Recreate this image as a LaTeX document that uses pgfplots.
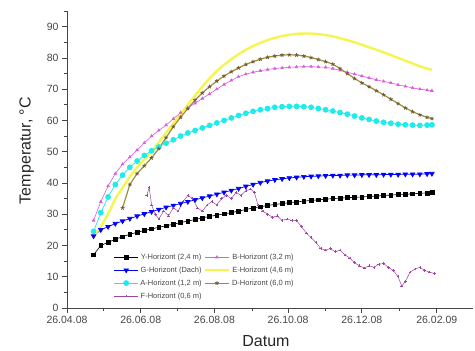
\documentclass[border=0pt]{standalone}
\usepackage{pgfplots}
\pgfplotsset{compat=1.18}
\usepackage{fontspec}
\setmainfont{Liberation Sans}

\definecolor{axgray}{RGB}{70,70,70}
\definecolor{hzB}{RGB}{222,90,222}
\definecolor{hzA}{RGB}{30,235,235}
\definecolor{hzE}{RGB}{245,245,80}
\definecolor{hzD}{RGB}{150,145,60}
\definecolor{hzDm}{RGB}{115,90,50}
\definecolor{hzF}{RGB}{160,70,160}

% x = days after 26.04.08
\begin{document}
\begin{tikzpicture}
\begin{axis}[
  name=ax,
  scale only axis,
  width=406pt, height=297pt,
  xmin=0, xmax=336, ymin=0, ymax=95,
  axis lines=left,
  axis line style={-, draw=axgray, line width=0.8pt},
  tick align=outside,
  major tick length=5pt, minor tick length=3pt,
  every tick/.style={draw=axgray, line width=0.7pt},
  xtick={0,61,122,183,244,306},
  xticklabels={26.04.08,26.06.08,26.08.08,26.10.08,26.12.08,26.02.09},
  minor xtick={30,91,153,214,275},
  ytick={0,10,...,90},
  minor ytick={5,15,...,95},
  /pgf/number format/assume math mode=true,
  tick label style={font=\fontsize{10.5}{12}\selectfont, text=axgray},
  xlabel={Datum}, ylabel={Temperatur, °C},
  label style={font=\fontsize{16}{18}\selectfont, text=black!85},
  xlabel style={at={(axis description cs:0.49,-0.111)}, anchor=center},
  ylabel style={at={(axis description cs:-0.099,0.53)}, anchor=center},
  legend columns=2,
  legend style={at={(rel axis cs:0.115,0.19)}, anchor=north west,
    draw=none, fill=none, font=\fontsize{7.5}{9}\selectfont,
    text=axgray, row sep=2pt, inner sep=0pt,
    /tikz/every even column/.append style={column sep=0pt}},
  legend image code/.code={%
    \draw[mark repeat=2,mark phase=2] plot coordinates {(0cm,0cm) (0.42cm,0cm) (0.84cm,0cm)};},
]

% Y-Horizont
\addplot[black, line width=0.6pt, mark=square*, mark size=1.9pt] coordinates {
(22,17.0)(28,20.0)(34,21.0)(40,22.0)(46,22.8)(52,23.6)(58,24.2)(64,24.8)
(70,25.3)(76,25.8)(82,26.3)(88,26.8)(94,27.3)(100,27.8)(106,28.3)(112,28.8)
(118,29.3)(124,29.7)(130,30.1)(136,30.5)(142,31.0)(148,31.5)(154,32.0)(160,32.4)
(166,32.8)(172,33.1)(178,33.4)(184,33.7)(190,33.9)(196,34.2)(202,34.4)(208,34.6)
(214,34.8)(220,35.0)(226,35.1)(232,35.3)(238,35.4)(244,35.5)(250,35.7)(256,35.8)
(262,36.0)(268,36.1)(274,36.3)(280,36.4)(286,36.5)(292,36.7)(298,36.8)(302,37.0)};
\addlegendentry{Y-Horizont (2,4 m)}

% B-Horizont
\addplot[hzB, line width=0.6pt, mark=triangle*, mark size=1.5pt] coordinates {
(22,28.0)(28,34.0)(34,39.0)(40,43.0)(46,46.0)(52,48.3)(58,50.5)(64,52.8)
(70,55.0)(76,56.8)(82,58.5)(88,60.5)(94,62.5)(100,64.0)(106,65.5)(112,67.0)
(118,68.5)(124,70.0)(130,71.5)(136,72.8)(142,74.0)(148,74.8)(154,75.4)(160,75.9)
(166,76.3)(172,76.6)(178,76.8)(184,77.0)(190,77.1)(196,77.2)(202,77.2)(208,77.1)
(214,77.0)(220,76.6)(226,76.0)(232,75.4)(238,74.8)(244,74.2)(250,73.6)(256,73.0)
(262,72.5)(268,72.0)(274,71.4)(280,70.9)(286,70.4)(292,70.0)(298,69.7)(302,69.5)};
\addlegendentry{B-Horizont (3,2 m)}

% G-Horizont
\addplot[blue, line width=0.7pt, mark=triangle*, mark size=2.6pt, mark options={rotate=180}] coordinates {
(22,23.0)(28,25.0)(34,26.0)(40,27.0)(46,27.8)(52,28.6)(58,29.4)(64,30.1)
(70,30.8)(76,31.5)(82,32.2)(88,32.8)(94,33.4)(100,34.0)(106,34.6)(112,35.2)
(118,35.8)(124,36.4)(130,37.0)(136,37.6)(142,38.2)(148,38.9)(154,39.5)(160,40.1)
(166,40.6)(172,41.0)(178,41.3)(184,41.6)(190,41.8)(196,42.0)(202,42.1)(208,42.2)
(214,42.3)(220,42.4)(226,42.4)(232,42.5)(238,42.5)(244,42.6)(250,42.6)(256,42.6)
(262,42.7)(268,42.7)(274,42.7)(280,42.8)(286,42.8)(292,42.8)(298,42.9)(302,43.0)};
\addlegendentry{G-Horizont (Dach)}

% E-Horizont
\addplot[hzE, line width=2.4pt, mark=none] coordinates {
(22,23.0)(28,26.0)(34,30.0)(40,35.0)(46,38.5)(52,42.0)(58,45.0)(64,47.5)
(70,50.0)(76,53.0)(82,56.0)(88,59.0)(94,62.0)(100,65.0)(106,68.0)(112,70.8)
(118,73.5)(124,75.8)(130,77.8)(136,79.6)(142,81.2)(148,82.6)(154,83.8)(160,84.8)
(166,85.7)(172,86.4)(178,87.0)(184,87.4)(190,87.7)(196,87.8)(202,87.8)(208,87.6)
(214,87.3)(220,86.9)(226,86.3)(232,85.7)(238,85.0)(244,84.2)(250,83.4)(256,82.6)
(262,81.8)(268,80.9)(274,80.0)(280,79.1)(286,78.2)(292,77.3)(298,76.6)(302,76.2)};
\addlegendentry{E-Horizont (4,6 m)}

% A-Horizont
\addplot[hzA, line width=0.7pt, mark=*, mark size=2.5pt] coordinates {
(22,24.5)(28,30.5)(34,35.5)(40,39.5)(46,42.5)(52,45.0)(58,47.0)(64,48.8)
(70,50.3)(76,51.5)(82,52.7)(88,53.8)(94,55.0)(100,56.0)(106,56.8)(112,57.6)
(118,58.4)(124,59.2)(130,60.0)(136,60.8)(142,61.6)(148,62.3)(154,62.9)(160,63.4)
(166,63.8)(172,64.2)(178,64.4)(184,64.5)(190,64.5)(196,64.4)(202,64.2)(208,63.8)
(214,63.4)(220,63.0)(226,62.5)(232,62.0)(238,61.4)(244,60.8)(250,60.3)(256,59.8)
(262,59.4)(268,59.1)(274,58.8)(280,58.6)(286,58.5)(292,58.4)(298,58.5)(302,58.6)};
\addlegendentry{A-Horizont (1,2 m)}

% D-Horizont
\addplot[hzD, line width=1.2pt, mark=star, mark size=2pt, mark options={draw=hzDm, line width=0.8pt}] coordinates {
(46,32.0)(52,39.5)(58,43.0)(64,45.5)
(70,48.0)(76,51.0)(82,54.5)(88,58.0)(94,61.0)(100,63.8)(106,66.5)(112,68.8)
(118,70.8)(124,72.6)(130,74.2)(136,75.6)(142,76.8)(148,77.9)(154,78.8)(160,79.6)
(166,80.2)(172,80.6)(178,80.9)(184,81.0)(190,80.9)(196,80.6)(202,80.1)(208,79.5)
(214,78.8)(220,78.0)(226,76.6)(232,75.0)(238,73.4)(244,72.0)(250,70.8)(256,69.5)
(262,68.2)(268,66.8)(274,65.4)(280,64.0)(286,62.8)(292,61.8)(298,61.0)(302,60.6)};
\addlegendentry{D-Horizont (6,0 m)}

% F-Horizont
\addplot[hzF, line width=0.5pt, mark=+, mark size=1.3pt] coordinates {
(66,36.0)(68,38.5)(70,33.0)(73,30.0)(76,28.5)(80,31.0)(84,29.5)(88,32.0)
(92,31.0)(96,34.0)(100,36.0)(104,35.0)(108,32.0)(112,31.0)(116,33.0)(120,34.0)
(124,33.0)(128,35.0)(132,36.0)(136,35.0)(140,37.0)(144,36.0)(148,37.5)(152,38.0)
(155,37.0)(158,33.0)(162,31.0)(166,30.0)(170,29.0)(174,29.5)(178,28.0)(182,28.5)
(186,28.0)(190,28.0)(194,26.0)(198,24.0)(202,22.5)(206,21.0)(210,19.0)(214,18.5)
(218,19.0)(222,18.0)(226,18.5)(230,17.0)(234,16.0)(238,14.5)(242,13.5)(246,12.8)
(250,13.5)(254,13.0)(258,14.0)(262,14.2)(266,13.0)(270,12.0)(274,10.0)(277,7.0)
(280,8.5)(284,11.5)(288,12.5)(292,13.0)(296,12.0)(300,11.5)(304,11.0)};
\addlegendentry{F-Horizont (0,6 m)}

\end{axis}
\pgfresetboundingbox
\path[use as bounding box] ([shift={(-67pt,-43pt)}]ax.south west) rectangle ([shift={(2pt,11pt)}]ax.north east);
\end{tikzpicture}
\end{document}
